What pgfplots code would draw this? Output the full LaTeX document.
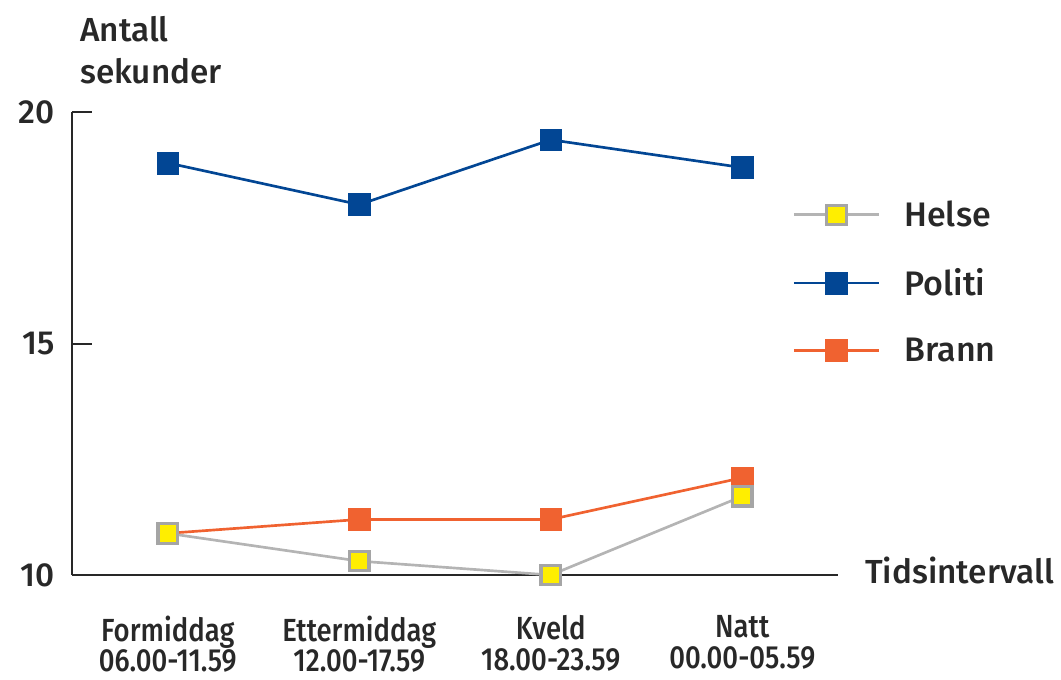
\documentclass[border=0pt]{standalone}
\usepackage{fontspec}
\setmainfont{Fira Sans}[UprightFont=* Medium]
\newfontfamily\condensed{Fira Sans}[UprightFont=* Medium, FakeStretch=0.86]
\usepackage{pgfplots}
\pgfplotsset{compat=1.18}
\definecolor{politi}{RGB}{2,70,148}
\definecolor{brann}{RGB}{240,98,48}
\definecolor{helseline}{RGB}{180,180,180}
\definecolor{helseedge}{RGB}{165,165,165}
\definecolor{helsefill}{RGB}{255,238,0}
\definecolor{txt}{RGB}{40,40,40}
\definecolor{axisc}{RGB}{40,40,40}
\begin{document}
\begin{tikzpicture}[font=\fontsize{25}{31.5}\selectfont, text=txt]
\path[use as bounding box] (-54pt,-78pt) rectangle (741.75pt,431.25pt);
\begin{axis}[
  at={(0,0)}, anchor=south west,
  scale only axis, width=574.5pt, height=347.25pt,
  xmin=-0.5, xmax=3.5, ymin=10, ymax=20,
  clip=false,
  axis lines*=left,
  axis line style={line width=1.5pt, color=axisc},
  tick align=inside,
  major tick length=15pt,
  tick style={line width=1.5pt, color=axisc},
  /pgf/number format/assume math mode=true,
  ytick={10,15,20},
  yticklabel style={inner sep=0pt, xshift=-12.75pt, font=\fontsize{25}{30}\selectfont},
  xtick={0,1,2,3},
  xticklabels={{Formiddag\\06.00-11.59},{Ettermiddag\\12.00-17.59},{Kveld\\18.00-23.59},{Natt\\00.00-05.59}},
  xticklabel style={align=center, anchor=north, yshift=-27pt, font=\condensed\fontsize{24}{23}\selectfont},
  x tick style={draw=none},
  extra x ticks={0.5,1.5,2.5,3.5},
  extra x tick labels={},
  extra x tick style={major tick length=9pt, tick style={draw=axisc, line width=1.5pt}},
  reverse legend,
  legend style={draw=none, fill=none, at={(0.935,0.82)}, anchor=north west, row sep=26pt, column sep=16pt, font=\fontsize{25.5}{28}\selectfont},
  legend cell align=left,
  legend image code/.code={\draw[mark repeat=2,mark phase=2,#1] plot coordinates {(0pt,0pt)(32pt,0pt)(64pt,0pt)};},
]
\addplot[brann, line width=2pt, mark=square*, mark size=8.2pt, mark options={line width=0.4pt, fill=brann, draw=brann}] coordinates {(0,10.9)(1,11.2)(2,11.2)(3,12.1)};
\addlegendentry{Brann}
\addplot[politi, line width=2pt, mark=square*, mark size=8.2pt, mark options={line width=0.4pt, fill=politi, draw=politi}] coordinates {(0,18.9)(1,18.0)(2,19.4)(3,18.8)};
\addlegendentry{Politi}
\addplot[helseline, line width=2pt, mark=square*, mark size=7.3pt, mark options={line width=2.3pt, fill=helsefill, draw=helseedge}] coordinates {(0,10.9)(1,10.3)(2,10.0)(3,11.7)};
\addlegendentry{Helse}
\end{axis}
\node[anchor=north west, align=left, inner sep=0pt] at (6pt,419pt) {Antall\\sekunder};
\node[anchor=west, inner sep=0pt] at (594.75pt,3.75pt) {Tidsintervall};
\end{tikzpicture}
\end{document}
